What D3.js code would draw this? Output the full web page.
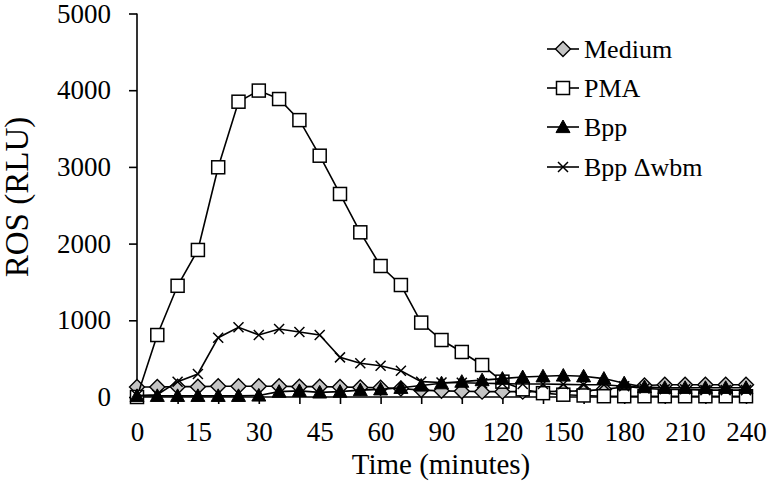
<!DOCTYPE html>
<html>
<head>
<meta charset="utf-8">
<script src="https://cdn.jsdelivr.net/npm/d3@7"></script>
<style>
  html, body { margin: 0; padding: 0; background: #fff; }
  svg { display: block; }
</style>
</head>
<body>
<svg id="chart" width="772" height="487"></svg>
<script>
// ---- data ----
const times = [0,5,10,15,20,25,30,35,40,45,50,55,60,70,80,90,100,110,120,130,140,150,160,170,180,190,200,210,220,230,240];
const tickLabels = [0,15,30,45,60,90,120,150,180,210,240];
const yTicks = [0,1000,2000,3000,4000,5000];
const seriesNames = ["Medium","PMA","Bpp","Bpp \u0394wbm"];
const medium = [130,130,135,135,140,140,140,140,135,135,130,125,120,110,90,80,75,70,70,70,70,75,80,100,130,150,160,160,160,160,160];
const pma    = [0,808,1450,1917,2995,3850,3995,3885,3610,3146,2647,2147,1708,1460,970,743,587,417,200,100,50,30,20,10,10,10,10,10,10,10,10];
const bpp    = [15,15,15,15,15,15,20,70,80,60,70,90,100,120,150,180,200,220,240,260,270,280,270,240,180,130,120,120,120,120,120];
const wbm    = [20,30,200,300,773,909,808,887,847,808,517,439,408,343,200,190,185,180,175,170,170,165,160,160,140,110,100,100,90,90,90];

const FONT = "'Liberation Serif', 'Times New Roman', serif";
const svg = d3.select("#chart");
svg.append("rect").attr("width",772).attr("height",487).attr("fill","#fff");

const x = d3.scalePoint().domain(times.map(String)).range([137, 746]);
const y = d3.scaleLinear().domain([0,5000]).range([397, 13.5]);

// ---- axes ----
const yAxis = d3.axisLeft(y).tickValues(yTicks).tickSize(8).tickPadding(18).tickFormat(d3.format("d"));
const gy = svg.append("g").attr("transform","translate(137,0)").call(yAxis);
gy.attr("font-family", FONT);
gy.select(".domain").attr("stroke","#000").attr("stroke-width",1.6).attr("d", `M0,${y(0)}V${y(5000)}`);
gy.selectAll(".tick line").attr("stroke","#000").attr("stroke-width",1.6);
gy.selectAll(".tick text").attr("font-size",27).attr("fill","#000").style("font-family", FONT);

const tickCats = times.filter((d,i)=> i%2===0).map(String);
const xAxis = d3.axisBottom(x).tickValues(tickCats).tickSize(7).tickFormat("");
const gx = svg.append("g").attr("transform",`translate(0,${y(0)})`).call(xAxis);
gx.select(".domain").attr("stroke","#000").attr("stroke-width",1.6).attr("d", `M${x("0")},0H${x("240")}`);
gx.selectAll(".tick line").attr("stroke","#000").attr("stroke-width",1.6);

const xLab = d3.axisBottom(x).tickValues(tickLabels.map(String)).tickSize(0).tickPadding(25);
const gxl = svg.append("g").attr("transform",`translate(0,${y(0)})`).call(xLab);
gxl.attr("font-family", FONT);
gxl.select(".domain").remove();
gxl.selectAll(".tick text").attr("font-size",27).attr("fill","#000").style("font-family", FONT);

// axis titles
svg.append("text").attr("x",441).attr("y",474).attr("text-anchor","middle")
  .attr("font-size",29).attr("fill","#000").style("font-family", FONT).text("Time (minutes)");
svg.append("text").attr("transform","translate(28,197) rotate(-90)").attr("text-anchor","middle")
  .attr("font-size",33).attr("fill","#000").style("font-family", FONT).text("ROS (RLU)");

// ---- markers ----
function marker(g, type, cx, cy) {
  if (type === "diamond") {
    const s = 7.5;
    g.append("path").attr("d",`M${cx},${cy-s}L${cx+s},${cy}L${cx},${cy+s}L${cx-s},${cy}Z`)
      .attr("fill","#c4c4c4").attr("stroke","#000").attr("stroke-width",1.4);
  } else if (type === "square") {
    const s = 6.5;
    g.append("rect").attr("x",cx-s).attr("y",cy-s).attr("width",2*s).attr("height",2*s)
      .attr("fill","#fff").attr("stroke","#000").attr("stroke-width",1.5);
  } else if (type === "triangle") {
    const s = 7;
    g.append("path").attr("d",`M${cx},${cy-s}L${cx+s},${cy+s*0.8}L${cx-s},${cy+s*0.8}Z`)
      .attr("fill","#000").attr("stroke","#000").attr("stroke-width",1);
  } else if (type === "x") {
    const s = 5;
    g.append("path").attr("d",`M${cx-s},${cy-s}L${cx+s},${cy+s}M${cx-s},${cy+s}L${cx+s},${cy-s}`)
      .attr("stroke","#000").attr("stroke-width",1.5).attr("fill","none");
  }
}

const series = [
  {name: seriesNames[0], values: medium, type: "diamond"},
  {name: seriesNames[1], values: pma, type: "square"},
  {name: seriesNames[2], values: bpp, type: "triangle"},
  {name: seriesNames[3], values: wbm, type: "x"}
];

const line = d3.line().x((d,i)=>x(String(times[i]))).y(d=>y(d));

series.forEach(s => {
  const g = svg.append("g");
  g.append("path").datum(s.values).attr("d", line).attr("fill","none")
    .attr("stroke","#000").attr("stroke-width",1.6);
  s.values.forEach((v,i) => marker(g, s.type, x(String(times[i])), y(v)));
});

// ---- legend ----
const legendRows = [49, 88, 127, 167];
series.forEach((s, i) => {
  const g = svg.append("g");
  const cy = legendRows[i];
  g.append("line").attr("x1",547).attr("x2",579).attr("y1",cy).attr("y2",cy)
    .attr("stroke","#000").attr("stroke-width",1.6);
  marker(g, s.type, 563, cy);
  g.append("text").attr("x",584).attr("y",cy).attr("dy","0.35em")
    .attr("font-size",26).attr("fill","#000").style("font-family", FONT).text(s.name);
});
</script>
</body>
</html>
